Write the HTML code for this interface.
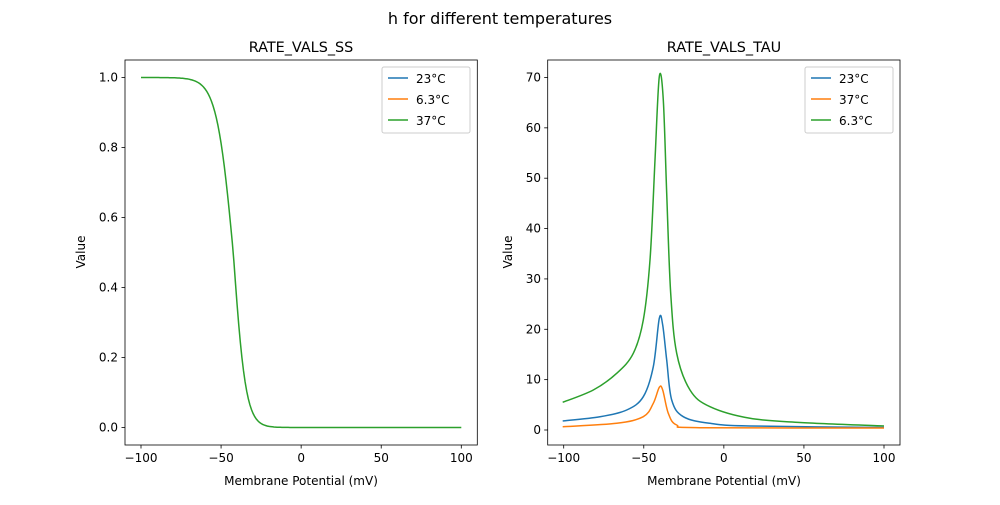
<!DOCTYPE html>
<html><head><meta charset="utf-8"><style>
body{margin:0;background:#fff}
text{font-family:"DejaVu Sans","Liberation Sans",sans-serif;fill:#000}
</style></head><body>
<svg id="s" width="1000" height="500" viewBox="0 0 1000 500" xmlns="http://www.w3.org/2000/svg">
<rect width="1000" height="500" fill="#fff"/>
<text x="500" y="24" font-size="16" text-anchor="middle">h for different temperatures</text>
<text x="301" y="52" font-size="14.4" text-anchor="middle">RATE_VALS_SS</text>
<text x="724" y="52" font-size="14.4" text-anchor="middle">RATE_VALS_TAU</text>
<g id="ticks" font-size="12"></g>
<path id="ss" fill="none" stroke="#2ca02c" stroke-width="1.5"/>
<path id="g1" fill="none" stroke="#2ca02c" stroke-width="1.5" stroke-linejoin="round"/>
<path id="b1" fill="none" stroke="#1f77b4" stroke-width="1.5" stroke-linejoin="round"/>
<path id="o1" fill="none" stroke="#ff7f0e" stroke-width="1.5" stroke-linejoin="round"/>
<rect x="125" y="60" width="352.3" height="385" fill="none" stroke="#000" stroke-width="0.8"/>
<rect x="547.7" y="60" width="352.3" height="385" fill="none" stroke="#000" stroke-width="0.8"/>
<text x="301" y="485" font-size="12" text-anchor="middle">Membrane Potential (mV)</text>
<text x="724" y="485" font-size="12" text-anchor="middle">Membrane Potential (mV)</text>
<text transform="translate(85,252) rotate(-90)" font-size="12" text-anchor="middle">Value</text>
<text transform="translate(512,252) rotate(-90)" font-size="12" text-anchor="middle">Value</text>
<g font-size="12">
<rect x="382" y="67" width="88" height="66" fill="#fff" stroke="#ccc" rx="2"/>
<line x1="388" x2="408" y1="78" y2="78" stroke="#1f77b4" stroke-width="1.5"/><text x="416" y="83">23°C</text>
<line x1="388" x2="408" y1="99" y2="99" stroke="#ff7f0e" stroke-width="1.5"/><text x="416" y="104">6.3°C</text>
<line x1="388" x2="408" y1="120" y2="120" stroke="#2ca02c" stroke-width="1.5"/><text x="416" y="125">37°C</text>
<rect x="805" y="67" width="88" height="66" fill="#fff" stroke="#ccc" rx="2"/>
<line x1="811" x2="831" y1="78" y2="78" stroke="#1f77b4" stroke-width="1.5"/><text x="839" y="83">23°C</text>
<line x1="811" x2="831" y1="99" y2="99" stroke="#ff7f0e" stroke-width="1.5"/><text x="839" y="104">37°C</text>
<line x1="811" x2="831" y1="120" y2="120" stroke="#2ca02c" stroke-width="1.5"/><text x="839" y="125">6.3°C</text>
</g>
</svg>
<script>
var NS="http://www.w3.org/2000/svg",g=document.getElementById("ticks");
function el(t,a,txt){var e=document.createElementNS(NS,t);for(var k in a)e.setAttribute(k,a[k]);if(txt)e.textContent=txt;g.appendChild(e);}
[[125,141.0],[547.7,563.7]].forEach(function(p){
 for(var v=-100;v<=100;v+=50){var x=p[1]+(v+100)/200*320.3;
  el("line",{x1:x,x2:x,y1:445,y2:448.5,stroke:"#000","stroke-width":0.8});
  el("text",{x:x,y:462,"text-anchor":"middle"},v==0?"0":(v<0?"−"+(-v):""+v));}});
for(var i=0;i<=5;i++){var y=427.5-i*70;
 el("line",{x1:121.5,x2:125,y1:y,y2:y,stroke:"#000","stroke-width":0.8});
 el("text",{x:118,y:y+4,"text-anchor":"end"},(i*0.2).toFixed(1));}
for(var i=0;i<=7;i++){var y=430-i*50.36;
 el("line",{x1:544.2,x2:547.7,y1:y,y2:y,stroke:"#000","stroke-width":0.8});
 el("text",{x:541,y:y+4,"text-anchor":"end"},""+i*10);}
var d="";for(var v=-100;v<=100;v+=1){var k=v<-42.4?5.2:3.9;var s=1/(1+Math.exp((v+42.4)/k));
 d+=(v==-100?"M":"L")+(141+(v+100)/200*320.3).toFixed(1)+","+(427.5-s*350).toFixed(1);}
document.getElementById("ss").setAttribute("d",d);
function cr(p){var d="M"+p[0][0]+","+p[0][1];for(var i=0;i<p.length-1;i++){var a=p[i-1]||p[i],b=p[i],c=p[i+1],e=p[i+2]||c;
 d+="C"+(b[0]+(c[0]-a[0])/6).toFixed(1)+","+(b[1]+(c[1]-a[1])/6).toFixed(1)+" "+(c[0]-(e[0]-b[0])/6).toFixed(1)+","+(c[1]-(e[1]-b[1])/6).toFixed(1)+" "+c[0]+","+c[1];}return d;}
document.getElementById("g1").setAttribute("d",cr([[562.7,402.3],[593.3,390],[616.7,373.3],[633.3,353.3],[643.3,320],[650,260],[655,160],[659.3,76.7],[663.3,100],[666.7,193.3],[670.7,293.3],[676.7,353.3],[690,390],[710,406.7],[750,418.3],[800,422.5],[884,426]]));
document.getElementById("b1").setAttribute("d",cr([[562.7,421],[600,416.7],[626.7,410],[643.3,396.7],[653.3,366.7],[659.3,318.3],[662.7,325],[666.7,360],[671.7,400],[683.3,416.7],[710,423.3],[750,426],[884,427.5]]));
document.getElementById("o1").setAttribute("d",cr([[562.7,426.7],[616.7,423.3],[643.3,416.7],[653.3,403.3],[659.3,387.3],[662.7,390],[668.3,413.3],[676.7,425],[700,427.7],[884,428]]));
</script>
</body></html>
